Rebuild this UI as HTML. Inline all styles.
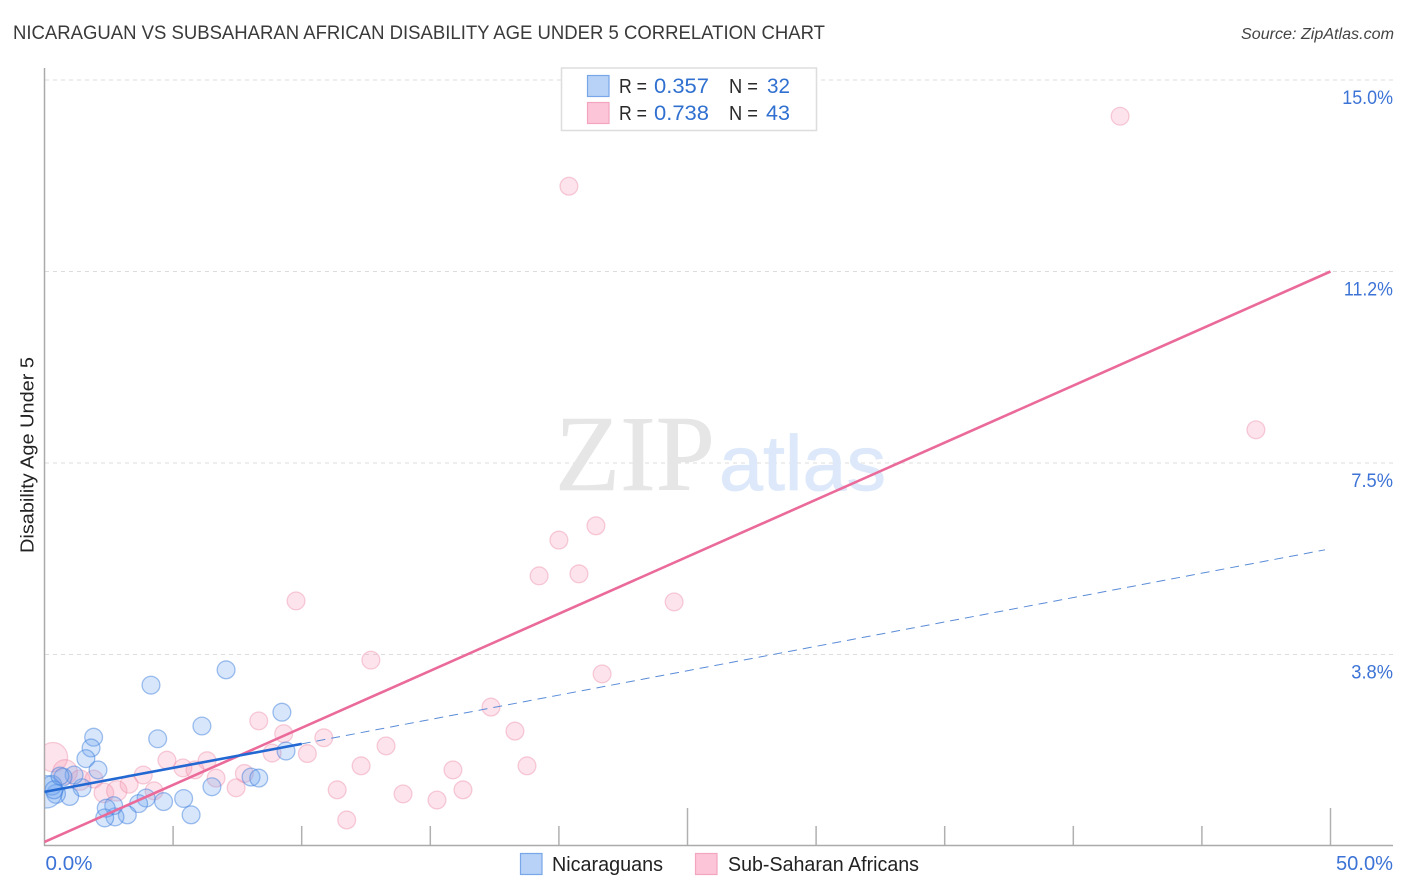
<!DOCTYPE html>
<html lang="en">
<head>
<meta charset="utf-8">
<title>Nicaraguan vs Subsaharan African Disability Age Under 5 Correlation Chart</title>
<style>
html,body{margin:0;padding:0;background:#fff;}
svg{display:block;font-family:"Liberation Sans",sans-serif;}
</style>
</head>
<body>
<svg id="chart" xmlns="http://www.w3.org/2000/svg" width="1406" height="892" viewBox="0 0 1406 892">
  <defs>
    <clipPath id="plot-clip"><rect x="45" y="60" width="1350" height="786"></rect></clipPath>
  </defs>
  <rect x="0" y="0" width="1406" height="892" fill="#ffffff"></rect>
  <text x="13" y="39" font-size="19.5" fill="#3a3a3a" textLength="812" lengthAdjust="spacingAndGlyphs">NICARAGUAN VS SUBSAHARAN AFRICAN DISABILITY AGE UNDER 5 CORRELATION CHART</text>
  <text x="1241" y="39" font-size="15.5" font-style="italic" fill="#444444" textLength="153" lengthAdjust="spacingAndGlyphs">Source: ZipAtlas.com</text>

  <g id="grid"></g>

  <text x="555" y="490" font-family="'Liberation Serif',serif" font-size="108" fill="#e6e6e6" stroke="#e6e6e6" stroke-width="0.6" textLength="160" lengthAdjust="spacingAndGlyphs">ZIP</text>
  <text x="719" y="490" font-size="78" fill="#dde9fa" stroke="#dde9fa" stroke-width="0.8" textLength="167" lengthAdjust="spacingAndGlyphs">atlas</text>

  <g id="x-ticks"></g>
  <line x1="44.5" y1="68" x2="44.5" y2="846" stroke="#aaaaaa" stroke-width="1.5"></line>
  <line x1="44" y1="845.5" x2="1393" y2="845.5" stroke="#aaaaaa" stroke-width="1.5"></line>

  <g id="points" clip-path="url(#plot-clip)"></g>
  <g id="trends"></g>
  <g id="y-labels"></g>
  <g id="x-labels"></g>

  <text transform="translate(33.5,553) rotate(-90)" font-size="18" fill="#222222" textLength="196" lengthAdjust="spacingAndGlyphs">Disability Age Under 5</text>

  <g>
    <rect x="561.5" y="68" width="255" height="62.5" fill="#ffffff" stroke="#dddddd" stroke-width="1.5"></rect>
    <rect x="587.5" y="75.5" width="21.5" height="21" fill="#b7d2f6" stroke="#78a6e8" stroke-width="1.2"></rect>
    <text x="619" y="93" font-size="20" fill="#2a2a2a" textLength="28" lengthAdjust="spacingAndGlyphs">R =</text>
    <text x="654" y="93" font-size="21" fill="#3070d0" textLength="55" lengthAdjust="spacingAndGlyphs">0.357</text>
    <text x="729" y="93" font-size="20" fill="#2a2a2a" textLength="29" lengthAdjust="spacingAndGlyphs">N =</text>
    <text x="767" y="93" font-size="21" fill="#3070d0" textLength="23" lengthAdjust="spacingAndGlyphs">32</text>
    <rect x="587.5" y="102.5" width="21.5" height="21" fill="#fcc6d8" stroke="#f3a5bf" stroke-width="1.2"></rect>
    <text x="619" y="120" font-size="20" fill="#2a2a2a" textLength="28" lengthAdjust="spacingAndGlyphs">R =</text>
    <text x="654" y="120" font-size="21" fill="#3070d0" textLength="55" lengthAdjust="spacingAndGlyphs">0.738</text>
    <text x="729" y="120" font-size="20" fill="#2a2a2a" textLength="29" lengthAdjust="spacingAndGlyphs">N =</text>
    <text x="766" y="120" font-size="21" fill="#3070d0" textLength="24" lengthAdjust="spacingAndGlyphs">43</text>
  </g>

  <g>
    <rect x="520.5" y="853.5" width="21.5" height="21" fill="#b7d2f6" stroke="#78a6e8" stroke-width="1.2"></rect>
    <text x="552" y="871" font-size="20" fill="#222222" textLength="111" lengthAdjust="spacingAndGlyphs">Nicaraguans</text>
    <rect x="695.5" y="853.5" width="21.5" height="21" fill="#fcc6d8" stroke="#f3a5bf" stroke-width="1.2"></rect>
    <text x="728" y="871" font-size="20" fill="#222222" textLength="191" lengthAdjust="spacingAndGlyphs">Sub-Saharan Africans</text>
  </g>
</svg>
<script>
const yTickValues = [3.75, 7.5, 11.25, 15];
const yTickLabels = ["3.8%", "7.5%", "11.2%", "15.0%"];
const xTickValues = [0, 5, 10, 15, 20, 25, 30, 35, 40, 45, 50];
const xMajorTicks = [25, 50];
const xEndValues = [0, 50];
const xEndLabels = ["0.0%", "50.0%"];

const nicaraguansX = [4.14, 7.06, 9.23, 6.12, 4.40, 1.91, 1.81, 1.61, 2.08, 9.39, 8.03, 8.33, 6.51, 5.41, 4.63, 5.70, 3.95, 3.66, 3.22, 2.74, 2.69, 2.40, 2.34, 1.46, 1.15, 0.72, 0.98, 0.45, 0.29, 0.06, 0.37, 0.60];
const nicaraguansY = [3.15, 3.45, 2.62, 2.35, 2.10, 2.13, 1.92, 1.71, 1.49, 1.86, 1.35, 1.33, 1.16, 0.93, 0.87, 0.61, 0.94, 0.83, 0.61, 0.57, 0.79, 0.74, 0.55, 1.14, 1.39, 1.35, 0.97, 1.02, 1.19, 1.06, 1.10, 1.37];
const nicaraguansWeight = [1, 1, 1, 1, 1, 1, 1, 1, 1, 1, 1, 1, 1, 1, 1, 1, 1, 1, 1, 1, 1, 1, 1, 1, 1, 1, 1, 1.1, 1.2, 3.3, 1, 1];

const africansX = [0.33, 0.80, 1.38, 1.92, 2.31, 2.81, 3.29, 3.84, 4.26, 4.76, 5.38, 5.85, 6.32, 6.67, 7.45, 7.77, 8.85, 9.30, 8.33, 10.22, 10.86, 11.38, 11.75, 12.31, 13.28, 12.69, 9.78, 13.94, 15.26, 15.88, 16.27, 17.36, 18.29, 18.76, 21.68, 24.48, 19.23, 20.78, 20.00, 21.44, 47.10, 20.39, 41.82];
const africansY = [1.74, 1.45, 1.29, 1.31, 1.04, 1.08, 1.21, 1.39, 1.08, 1.68, 1.53, 1.49, 1.67, 1.33, 1.14, 1.42, 1.82, 2.20, 2.45, 1.81, 2.12, 1.10, 0.51, 1.57, 1.96, 3.64, 4.80, 1.02, 0.90, 1.49, 1.10, 2.72, 2.25, 1.57, 3.37, 4.78, 5.29, 5.33, 5.99, 6.27, 8.15, 12.92, 14.29];
const africansWeight = [2.7, 1.9, 1.3, 1, 1.2, 1.3, 1, 1, 1, 1, 1, 1, 1, 1, 1, 1, 1, 1, 1, 1, 1, 1, 1, 1, 1, 1, 1, 1, 1, 1, 1, 1, 1, 1, 1, 1, 1, 1, 1, 1, 1, 1, 1];

const nicaraguansSolidTrendX = [0, 10];
const nicaraguansSolidTrendY = [1.06, 2.00];
const nicaraguansDashedTrendX = [10, 49.79];
const nicaraguansDashedTrendY = [2.00, 5.80];
const africansTrendX = [0, 50];
const africansTrendY = [0.08, 11.25];

const SVG_NS = "http://www.w3.org/2000/svg";
const BASE_RADIUS = 8.9;
function xScale(v) { return 44.5 + v * (1330.5 - 44.5) / 50; }
function yScale(v) { return 846 - v * (846 - 80) / 15; }
function make(tag, parentId) {
  const el = document.createElementNS(SVG_NS, tag);
  document.getElementById(parentId).appendChild(el);
  return el;
}
function glyphWidth(text) {
  let w = 0;
  for (const ch of text) {
    w += ch === "%" ? 15.5 : ch === "." ? 5 : ch === "1" ? 9 : 10.6;
  }
  return w;
}

yTickValues.forEach(function (v, i) {
  const gridLine = make("line", "grid");
  
  
  gridLine.setAttribute("x1", 45);
  gridLine.setAttribute("x2", 1393);
  gridLine.setAttribute("y1", yScale(v));
  gridLine.setAttribute("y2", yScale(v));
  gridLine.setAttribute("stroke", "#dcdcdc");
  gridLine.setAttribute("stroke-width", 1);
  gridLine.setAttribute("stroke-dasharray", "4 4");
  const label = make("text", "y-labels");
  
  
  label.setAttribute("x", 1393);
  label.setAttribute("y", yScale(v) + 24);
  label.setAttribute("text-anchor", "end");
  label.setAttribute("font-size", 19.5);
  label.setAttribute("fill", "#3c73d6");
  label.setAttribute("textLength", glyphWidth(yTickLabels[i]));
  label.setAttribute("lengthAdjust", "spacingAndGlyphs");
  label.textContent = yTickLabels[i];
});

xTickValues.forEach(function (v) {
  if (v === 0) { return; }
  const tick = make("line", "x-ticks");
  
  
  tick.setAttribute("x1", xScale(v));
  tick.setAttribute("x2", xScale(v));
  tick.setAttribute("y1", xMajorTicks.indexOf(v) >= 0 ? 808 : 826);
  tick.setAttribute("y2", 846);
  tick.setAttribute("stroke", "#b0b0b0");
  tick.setAttribute("stroke-width", 1.5);
});

xEndValues.forEach(function (v, i) {
  const label = make("text", "x-labels");
  
  
  label.setAttribute("x", i === 0 ? xScale(v) + 1 : xScale(v) + 62.5);
  label.setAttribute("y", 870);
  label.setAttribute("text-anchor", i === 0 ? "start" : "end");
  label.setAttribute("font-size", 20);
  label.setAttribute("fill", "#3c73d6");
  label.setAttribute("textLength", i === 0 ? 47 : 57);
  label.setAttribute("lengthAdjust", "spacingAndGlyphs");
  label.textContent = xEndLabels[i];
});

africansX.forEach(function (v, i) {
  const dot = make("circle", "points");
  
  
  dot.setAttribute("cx", xScale(v));
  dot.setAttribute("cy", yScale(africansY[i]));
  dot.setAttribute("r", BASE_RADIUS * Math.sqrt(africansWeight[i]));
  dot.setAttribute("fill", "rgba(248,150,180,0.27)");
  dot.setAttribute("stroke", "rgba(236,140,170,0.42)");
  dot.setAttribute("stroke-width", 1.3);
});

nicaraguansX.forEach(function (v, i) {
  const dot = make("circle", "points");
  
  
  dot.setAttribute("cx", xScale(v));
  dot.setAttribute("cy", yScale(nicaraguansY[i]));
  dot.setAttribute("r", BASE_RADIUS * Math.sqrt(nicaraguansWeight[i]));
  dot.setAttribute("fill", "rgba(110,165,240,0.28)");
  dot.setAttribute("stroke", "rgba(60,125,220,0.48)");
  dot.setAttribute("stroke-width", 1.3);
});

const africansTrend = make("line", "trends");


africansTrend.setAttribute("x1", xScale(africansTrendX[0]));
africansTrend.setAttribute("y1", yScale(africansTrendY[0]));
africansTrend.setAttribute("x2", xScale(africansTrendX[1]));
africansTrend.setAttribute("y2", yScale(africansTrendY[1]));
africansTrend.setAttribute("stroke", "#ea6a9a");
africansTrend.setAttribute("stroke-width", 2.6);

const dashedTrend = make("line", "trends");


dashedTrend.setAttribute("x1", xScale(nicaraguansDashedTrendX[0]));
dashedTrend.setAttribute("y1", yScale(nicaraguansDashedTrendY[0]));
dashedTrend.setAttribute("x2", xScale(nicaraguansDashedTrendX[1]));
dashedTrend.setAttribute("y2", yScale(nicaraguansDashedTrendY[1]));
dashedTrend.setAttribute("stroke", "#5a8cd8");
dashedTrend.setAttribute("stroke-width", 1);
dashedTrend.setAttribute("stroke-dasharray", "9 6");

const solidTrend = make("line", "trends");


solidTrend.setAttribute("x1", xScale(nicaraguansSolidTrendX[0]));
solidTrend.setAttribute("y1", yScale(nicaraguansSolidTrendY[0]));
solidTrend.setAttribute("x2", xScale(nicaraguansSolidTrendX[1]));
solidTrend.setAttribute("y2", yScale(nicaraguansSolidTrendY[1]));
solidTrend.setAttribute("stroke", "#2268d2");
solidTrend.setAttribute("stroke-width", 2.6);
</script>
</body>
</html>
